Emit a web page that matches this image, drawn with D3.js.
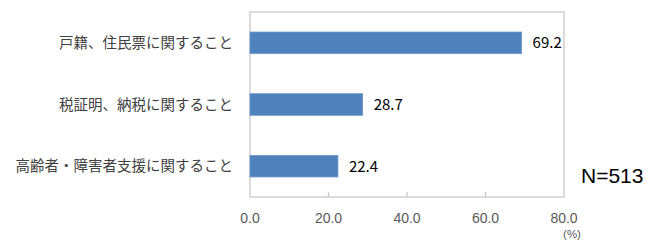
<!DOCTYPE html>
<html><head><meta charset="utf-8">
<script src="https://cdn.jsdelivr.net/npm/d3@7"></script>
<style>body{margin:0;background:#fff;} svg{display:block;}</style>
</head><body>
<script>
const categories = ["戸籍、住民票に関すること", "税証明、納税に関すること", "高齢者・障害者支援に関すること"];
const values = [69.2, 28.7, 22.4];
const tickValues = [0, 20, 40, 60, 80];
const unitLabel = "(%)";
const nLabel = "N=513";

(function () {
const W = 659, H = 240;
const svg = d3.select("body").append("svg").attr("width", W).attr("height", H);
const pl = 250, pr = 564, pt = 12, pb = 197;
const font = "'Noto Sans CJK JP', 'Noto Sans', sans-serif";
const latin = "'Liberation Sans', Arial, sans-serif";

const x = d3.scaleLinear().domain([0, 80]).range([pl, pr]);
const y = d3.scaleBand().domain(categories).range([pt, pb]).paddingInner(0.65).paddingOuter(0.325);

svg.append("rect").attr("x", pl).attr("y", pt).attr("width", pr - pl).attr("height", pb - pt)
  .attr("fill", "none").attr("stroke", "#c8c8c8").attr("stroke-width", 1.3);

svg.selectAll("line.tk").data(tickValues.slice(1, -1)).enter().append("line")
  .attr("x1", d => x(d)).attr("x2", d => x(d)).attr("y1", pb - 5).attr("y2", pb)
  .attr("stroke", "#c8c8c8").attr("stroke-width", 1.3);

svg.selectAll("rect.bar").data(values).enter().append("rect")
  .attr("x", x(0)).attr("y", (d, i) => y(categories[i]))
  .attr("width", d => x(d) - x(0)).attr("height", y.bandwidth())
  .attr("fill", "#4f81bd").attr("stroke", "#6a96cc").attr("stroke-width", 0.8);

svg.selectAll("text.val").data(values).enter().append("text")
  .attr("x", d => x(d) + 11).attr("y", (d, i) => y(categories[i]) + y.bandwidth() / 2)
  .attr("dy", "0.36em").attr("font-family", font).attr("font-size", 15).attr("fill", "#000")
  .text(d => d.toFixed(1));

svg.selectAll("text.cat").data(categories).enter().append("text")
  .attr("x", 233).attr("y", d => y(d) + y.bandwidth() / 2)
  .attr("dy", "0.36em").attr("text-anchor", "end").attr("font-family", font).attr("font-size", 14.5)
  .attr("fill", "#404040").text(d => d);

svg.selectAll("text.tl").data(tickValues).enter().append("text")
  .attr("x", d => x(d)).attr("y", 218).attr("dy", "0.36em").attr("text-anchor", "middle")
  .attr("font-family", latin).attr("font-size", 14).attr("fill", "#595959")
  .text(d => d.toFixed(1));

svg.append("text").attr("x", 572).attr("y", 233.5).attr("dy", "0.36em").attr("text-anchor", "middle")
  .attr("font-family", latin).attr("font-size", 11.5).attr("fill", "#595959").text(unitLabel);

svg.append("text").attr("x", 581).attr("y", 175).attr("dy", "0.36em")
  .attr("font-family", "'Liberation Sans Narrow', 'Liberation Sans', sans-serif").attr("font-size", 21).attr("fill", "#000").text(nLabel);
})();
</script>
</body></html>
